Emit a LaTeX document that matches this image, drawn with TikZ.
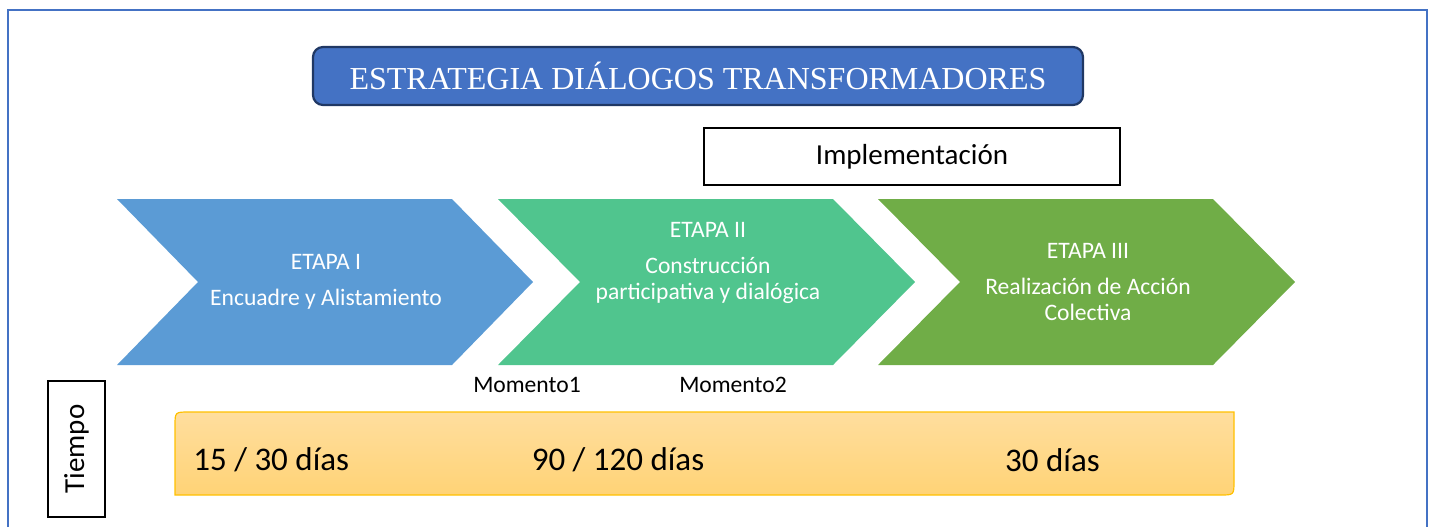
\documentclass[tikz,border=0pt]{standalone}
\usepackage{fontspec}
\setmainfont{Carlito}
\newfontfamily\titlefont{Liberation Serif}
\usepackage{tikz}
\usetikzlibrary{positioning}
\definecolor{frameblue}{RGB}{68,114,196}
\definecolor{titleedge}{RGB}{32,56,100}
\definecolor{stageone}{RGB}{91,155,213}
\definecolor{stagetwo}{RGB}{80,197,142}
\definecolor{stagethree}{RGB}{112,173,71}
\definecolor{bartop}{RGB}{255,222,158}
\definecolor{barbottom}{RGB}{255,211,118}
\definecolor{baredge}{RGB}{255,192,0}
\tikzstyle{frame} = [draw=frameblue, line width=1.2pt]
\tikzstyle{titlebox} = [rectangle, rounded corners=5pt, minimum width=385pt, minimum height=29pt, draw=titleedge, line width=1.1pt, fill=frameblue, text=white, font=\titlefont\fontsize{16}{19}\selectfont]
\tikzstyle{implbox} = [rectangle, minimum width=208pt, minimum height=28.5pt, draw=black, line width=0.6pt, font=\fontsize{14.5}{17}\selectfont]
\tikzstyle{stagetext} = [align=center, text=white, font=\fontsize{11.8}{13}\selectfont]
\tikzstyle{moment} = [font=\fontsize{11.8}{14}\selectfont]
\tikzstyle{timelabel} = [rectangle, rotate=90, minimum width=68pt, minimum height=28.5pt, draw=black, line width=0.6pt, font=\fontsize{14.5}{17}\selectfont]
\tikzstyle{timebar} = [draw=baredge, line width=0.6pt, top color=bartop, bottom color=barbottom]
\tikzstyle{daystext} = [inner sep=0pt, font=\fontsize{16.5}{19}\selectfont]

\begin{document}
\begin{tikzpicture}[x=0.5pt, y=-0.5pt]
    \useasboundingbox (0,0) rectangle (1436,527);

    % Outer frame
    \draw[frame] (8,527) -- (8,10) -- (1427,10) -- (1427,527);

    % Title and implementation
    \node[titlebox] (title) at (698,76) {ESTRATEGIA DIÁLOGOS TRANSFORMADORES};
    \node[implbox] (impl) at (912,156.5) {Implementación};

    % Stages
    \fill[stageone] (117,199) -- (452,199) -- (533,282) -- (452,365) -- (117,365) -- (198,282) -- cycle;
    \fill[stagetwo] (498,199) -- (833,199) -- (915,282) -- (833,365) -- (498,365) -- (580,282) -- cycle;
    \fill[stagethree] (878,199) -- (1213,199) -- (1295,282) -- (1213,365) -- (878,365) -- (960,282) -- cycle;
    \node[stagetext] (etapa1) at (326,282) {ETAPA I\\[5pt]Encuadre y Alistamiento};
    \node[stagetext] (etapa2) at (708,263) {ETAPA II\\[5pt]Construcción\\participativa y dialógica};
    \node[stagetext] (etapa3) at (1088,282) {ETAPA III\\[5pt]Realización de Acción\\Colectiva};

    % Moments
    \node[moment] (mom1) at (527,385) {Momento1};
    \node[moment] (mom2) at (733,385) {Momento2};

    % Time
    \node[timelabel] (tiempo) at (76.5,449) {Tiempo};
    \draw[timebar] (175,495) -- (175,426) .. controls (175,412) .. (189,412) -- (1234,412) -- (1234,481) .. controls (1234,495) .. (1220,495) -- cycle;
    \node[daystext, anchor=west] (dias1) at (193,460) {15 / 30 días};
    \node[daystext] (dias2) at (618,460) {90 / 120 días};
    \node[daystext] (dias3) at (1052.5,460) {30 días};
\end{tikzpicture}
\end{document}
